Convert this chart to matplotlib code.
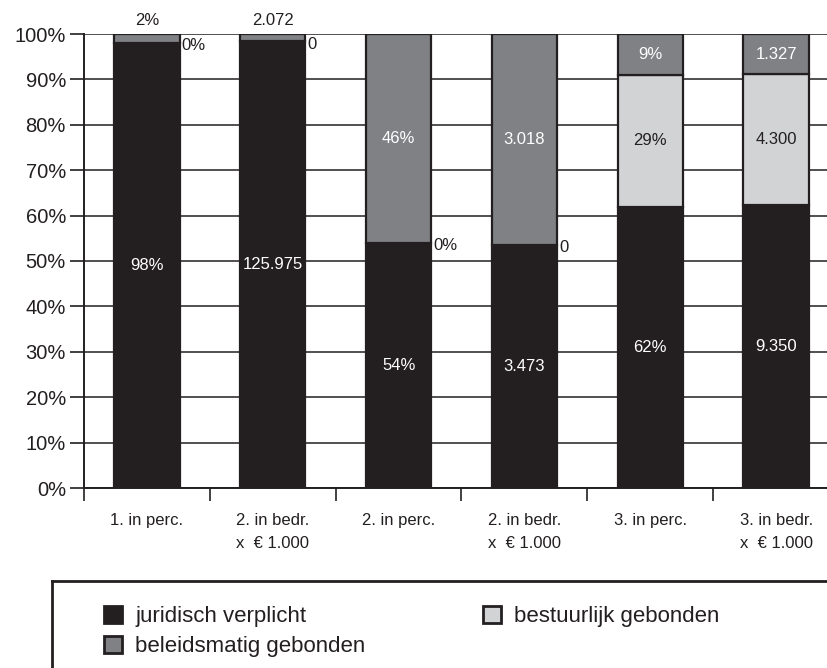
import numpy as np
import matplotlib.pyplot as plt
from matplotlib.lines import Line2D

plt.rcParams['font.family'] = ['Liberation Sans', 'DejaVu Sans']

# data
categories = ["1. in perc.", "2. in bedr.\nx  € 1.000", "2. in perc.",
              "2. in bedr.\nx  € 1.000", "3. in perc.", "3. in bedr.\nx  € 1.000"]
is_amount = [False, True, False, True, False, True]
juridisch = [98, 125975, 54, 3473, 62, 9350]
bestuurlijk = [0, 0, 0, 0, 29, 4300]
beleidsmatig = [2, 2072, 46, 3018, 9, 1327]
series_names = ["juridisch verplicht", "bestuurlijk gebonden", "beleidsmatig gebonden"]
yticks = [0, 10, 20, 30, 40, 50, 60, 70, 80, 90, 100]

c_black = "#231f20"
c_mid = "#808184"
c_light = "#d1d3d4"
colors = [c_black, c_light, c_mid]
text_colors = ["white", c_black, "white"]


def fmt(v, amount):
    if amount:
        return f"{v:,}".replace(",", ".")
    return f"{v}%"


raw = np.array([juridisch, bestuurlijk, beleidsmatig], dtype=float)
pct = raw / raw.sum(axis=0) * 100
x = np.arange(len(categories))

fig = plt.figure(figsize=(8.28, 6.68), dpi=100)
# axes runs past the right edge of the figure, like the reference
ax = fig.add_axes([84 / 828, 180 / 668, 755 / 828, 454 / 668])

width = 0.52
bottom = np.zeros(len(categories))
bars = []
for i in range(3):
    b = ax.bar(x, pct[i], width, bottom=bottom, color=colors[i],
               edgecolor=c_black, linewidth=1.6, zorder=3, label=series_names[i])
    bars.append(b)
    for j in range(len(categories)):
        label = fmt(int(raw[i, j]), is_amount[j])
        if raw[i, j] == 0:
            ax.text(x[j] + width / 2 + 0.015, bottom[j] - 0.6, label, ha="left",
                    va="center", fontsize=12, color=c_black, zorder=4)
        elif pct[i, j] < 5:
            ax.text(x[j], bottom[j] + pct[i, j] + 1.3, label, ha="center",
                    va="bottom", fontsize=12, color=c_black, zorder=4)
        else:
            ax.text(x[j], bottom[j] + pct[i, j] / 2, label, ha="center",
                    va="center", fontsize=12, color=text_colors[i], zorder=4)
    bottom += pct[i]

ax.set_xlim(-0.5, len(categories) - 0.5)
ax.set_ylim(0, 100)
ax.set_yticks(yticks)
ax.set_yticklabels([f"{t}%" for t in yticks], fontsize=14.5, color=c_black)
ax.tick_params(axis="y", length=10, width=1.2, color=c_black, pad=3)

ax.set_xticks(np.arange(-0.5, len(categories), 1.0))
ax.set_xticklabels([])
ax.tick_params(axis="x", which="major", length=9, width=1.2, color=c_black)
ax.set_xticks(x, minor=True)
ax.set_xticklabels(categories, minor=True, fontsize=12, color=c_black, linespacing=1.7)
ax.tick_params(axis="x", which="minor", length=0, pad=18)

ax.yaxis.grid(True, color=c_black, linewidth=1.1, zorder=0)
ax.set_axisbelow(True)
for s in ["top", "right"]:
    ax.spines[s].set_visible(False)
for s in ["left", "bottom"]:
    ax.spines[s].set_color(c_black)
    ax.spines[s].set_linewidth(1.4)

# legend box (top and left border, runs off the figure)
fig.add_artist(Line2D([52 / 828, 1.0], [1 - 581 / 668] * 2, color=c_black, linewidth=2))
fig.add_artist(Line2D([52 / 828] * 2, [0, 1 - 581 / 668], color=c_black, linewidth=2))
handles = [bars[0], bars[2], bars[1]]
leg = fig.legend(handles, [series_names[0], series_names[2], series_names[1]],
                 ncol=2, loc="upper left", bbox_to_anchor=(104 / 828, 1 - 606 / 668),
                 frameon=False, fontsize=16, handlelength=0.8, handleheight=0.8,
                 handletextpad=0.6, columnspacing=5.3, labelspacing=0.4,
                 borderaxespad=0, borderpad=0)
for t in leg.get_texts():
    t.set_color(c_black)
for h in leg.legend_handles:
    h.set_linewidth(2)

fig.savefig("out.png", dpi=100)
